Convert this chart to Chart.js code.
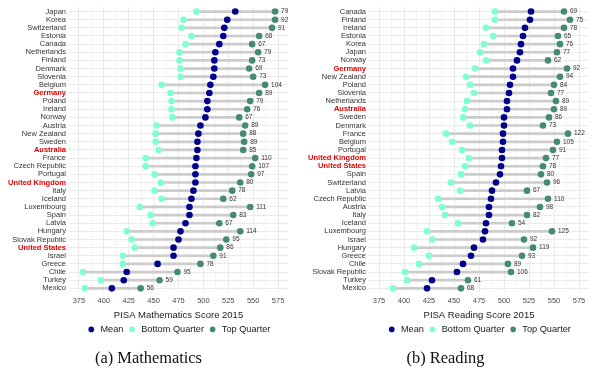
<!DOCTYPE html>
<html>
<head>
<meta charset="utf-8">
<script src="https://cdn.jsdelivr.net/npm/chart.js@4.4.0/dist/chart.umd.min.js"></script>
<style>
  body { margin: 0; background: #fff; }
  .panels { display: flex; width: 594px; }
  .panel { width: 297px; }
  .chart-box { width: 297px; height: 344px; }
  .caption {
    font-family: "Liberation Serif", "DejaVu Serif", serif;
    font-size: 16.4px;
    line-height: 18px;
    margin-top: 5px;
    text-align: center;
    color: #111;
  }
</style>
</head>
<body>
<div class="panels">
  <div class="panel">
    <div class="chart-box"><canvas id="mathChart" width="297" height="344"></canvas></div>
    <div class="caption">(a) Mathematics</div>
  </div>
  <div class="panel">
    <div class="chart-box"><canvas id="readChart" width="297" height="344"></canvas></div>
    <div class="caption">(b) Reading</div>
  </div>
</div>
<script>
// Mathematics, PISA 2015
const mathCountries = [
  "Japan", "Korea", "Switzerland", "Estonia", "Canada", "Netherlands", "Finland",
  "Denmark", "Slovenia", "Belgium", "Germany", "Poland", "Ireland", "Norway",
  "Austria", "New Zealand", "Sweden", "Australia", "France", "Czech Republic",
  "Portugal", "United Kingdom", "Italy", "Iceland", "Luxembourg", "Spain", "Latvia",
  "Hungary", "Slovak Republic", "United States", "Israel", "Greece", "Chile",
  "Turkey", "Mexico",
];
const mathMean = [532, 524, 521, 520, 516, 512, 511, 511, 510, 507, 506, 504, 504, 502, 497, 495, 494, 494, 493, 492, 492, 492, 490, 488, 486, 486, 482, 477, 475, 470, 470, 454, 423, 420, 408];
const mathBottom = [493, 480, 478, 488, 482, 476, 476, 477, 477, 458, 467, 468, 468, 469, 453, 452, 452, 455, 442, 442, 451, 457, 451, 458, 436, 447, 449, 423, 428, 431, 419, 419, 379, 397, 381];
const mathTop = [572, 572, 569, 556, 549, 555, 549, 546, 550, 562, 556, 547, 544, 536, 542, 540, 541, 540, 552, 549, 548, 537, 529, 520, 547, 530, 516, 537, 523, 517, 510, 497, 474, 456, 437];
const mathGap = [79, 92, 91, 68, 67, 79, 73, 69, 73, 104, 89, 79, 76, 67, 89, 88, 89, 85, 110, 107, 97, 80, 78, 62, 111, 83, 67, 114, 95, 86, 91, 78, 95, 59, 56];

// Reading, PISA 2015
const readCountries = [
  "Canada", "Finland", "Ireland", "Estonia", "Korea", "Japan", "Norway", "Germany",
  "New Zealand", "Poland", "Slovenia", "Netherlands", "Australia", "Sweden",
  "Denmark", "France", "Belgium", "Portugal", "United Kingdom", "United States",
  "Spain", "Switzerland", "Latvia", "Czech Republic", "Austria", "Italy", "Iceland",
  "Luxembourg", "Israel", "Hungary", "Greece", "Chile", "Slovak Republic", "Turkey",
  "Mexico",
];
const readMean = [527, 526, 521, 519, 517, 516, 513, 509, 509, 506, 505, 503, 503, 500, 500, 499, 499, 498, 498, 497, 496, 492, 488, 487, 485, 485, 482, 481, 479, 470, 467, 459, 453, 428, 423];
const readBottom = [491, 491, 482, 489, 480, 476, 482, 471, 462, 466, 470, 463, 461, 459, 466, 442, 448, 458, 465, 461, 457, 447, 456, 434, 438, 441, 454, 423, 428, 410, 425, 415, 401, 403, 389];
const readTop = [560, 566, 560, 554, 556, 553, 544, 563, 556, 550, 547, 552, 550, 545, 539, 564, 553, 549, 542, 539, 537, 543, 523, 544, 536, 523, 508, 548, 520, 529, 518, 504, 507, 464, 457];
const readGap = [69, 75, 78, 65, 76, 77, 62, 92, 94, 84, 77, 89, 89, 86, 73, 122, 105, 91, 77, 78, 80, 96, 67, 110, 98, 82, 54, 125, 92, 119, 93, 89, 106, 61, 68];

const highlighted = ["Germany", "Australia", "United Kingdom", "United States"];
const xTicks = [375, 400, 425, 450, 475, 500, 525, 550, 575];

Chart.defaults.font.family = '"Liberation Sans", Arial, sans-serif';

const meanColor = "#00008B";
const bottomColor = "#7FFFD4";
const topColor = "#458B74";

const initializeChart = (canvasId, labels, mean, bottom, top, gaps, title, leftWidth, rightPad) => {
  // major ticks plus the minor lines halfway between them
  const gridValues = [];
  xTicks.forEach((v, i) => {
    gridValues.push(v);
    if (i < xTicks.length - 1) gridValues.push((v + xTicks[i + 1]) / 2);
  });

  const pointSet = (label, data, color) => ({
    type: "line",
    label: label,
    data: data,
    showLine: false,
    pointStyle: "circle",
    pointRadius: 3.3,
    pointHoverRadius: 3.3,
    pointBorderWidth: 0,
    pointBackgroundColor: color,
    pointBorderColor: color,
    backgroundColor: color,
    borderColor: color,
    order: 1,
  });

  const gapLabels = {
    id: "gapLabels",
    afterDatasetsDraw: function (chart) {
      const meta = chart.getDatasetMeta(3);
      const ctx = chart.ctx;
      ctx.save();
      ctx.font = '6.5px "Liberation Sans", Arial, sans-serif';
      ctx.fillStyle = "#333";
      ctx.textAlign = "left";
      ctx.textBaseline = "middle";
      meta.data.forEach((pt, i) => {
        ctx.fillText(String(gaps[i]), pt.x + 6, pt.y);
      });
      ctx.restore();
    },
  };

  new Chart(document.getElementById(canvasId), {
    type: "bar",
    data: {
      labels: labels,
      datasets: [
        {
          label: "",
          data: bottom.map((b, i) => [b, top[i]]),
          backgroundColor: "#CCCCCC",
          barThickness: 2,
          order: 10,
        },
        pointSet("Mean", mean, meanColor),
        pointSet("Bottom Quarter", bottom, bottomColor),
        pointSet("Top Quarter", top, topColor),
      ],
    },
    options: {
      indexAxis: "y",
      responsive: false,
      animation: false,
      devicePixelRatio: 1,
      layout: { padding: { left: 0, right: rightPad, top: 5, bottom: 0 } },
      plugins: {
        tooltip: { enabled: false },
        legend: {
          position: "bottom",
          fullSize: false,
          labels: {
            usePointStyle: true,
            boxWidth: 10,
            boxHeight: 4,
            padding: 4,
            color: "#1a1a1a",
            font: { size: 9.2 },
            filter: (item) => item.text !== "",
          },
        },
      },
      scales: {
        x: {
          type: "linear",
          min: 365,
          max: 585,
          afterBuildTicks: (axis) => {
            axis.ticks = gridValues.map((v) => ({ value: v }));
          },
          ticks: {
            autoSkip: false,
            maxRotation: 0,
            padding: 4,
            color: "#4D4D4D",
            font: { size: 7.5 },
            callback: (value) => (xTicks.includes(value) ? String(value) : ""),
          },
          grid: {
            drawTicks: false,
            color: (ctx) => (ctx.tick && xTicks.includes(ctx.tick.value) ? "#EBEBEB" : "#F4F4F4"),
            lineWidth: 1,
          },
          border: { display: false },
          title: {
            display: true,
            text: title,
            color: "#1a1a1a",
            font: { size: 9.5 },
            padding: { top: 0, bottom: 0 },
          },
        },
        y: {
          type: "category",
          afterFit: (axis) => {
            axis.width = leftWidth;
          },
          ticks: {
            autoSkip: false,
            padding: 3,
            color: (ctx) => (highlighted.includes(labels[ctx.index]) ? "#E00000" : "#333333"),
            font: (ctx) =>
              highlighted.includes(labels[ctx.index])
                ? { size: 7.5, weight: "bold" }
                : { size: 7.5 },
          },
          grid: { offset: false, drawTicks: false, color: "#EBEBEB", lineWidth: 1 },
          border: { display: false },
        },
      },
    },
    plugins: [gapLabels],
  });
};

initializeChart("mathChart", mathCountries, mathMean, mathBottom, mathTop, mathGap,
  "PISA Mathematics Score 2015", 69, 9);
initializeChart("readChart", readCountries, readMean, readBottom, readTop, readGap,
  "PISA Reading Score 2015", 72, 5);
</script>
</body>
</html>
